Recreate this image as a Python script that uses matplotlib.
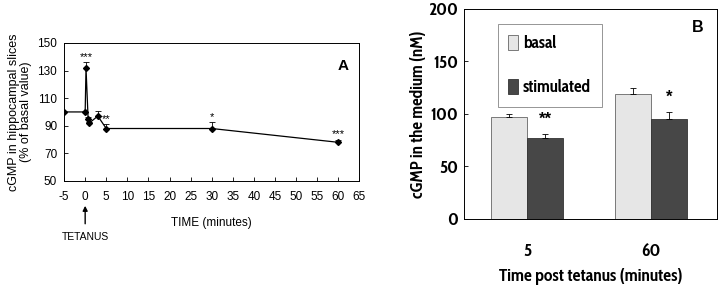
import matplotlib
matplotlib.use("Agg")
import matplotlib.pyplot as plt
from matplotlib import font_manager as fm
import numpy as np
import os

# Panel A data
time_min = [-5, 0, 0.2, 0.7, 1, 3, 5, 30, 60]
cgmp_pct = [100, 100, 132, 95, 92, 97, 88, 88, 78]
cgmp_err = [0, 0, 4, 1.5, 1, 4, 3, 5, 2]
sig_times = [0.2, 5, 30, 60]
sig_vals = [136, 91, 93, 80]
sig_marks = ["***", "**", "*", "***"]
xticks_a = list(range(-5, 70, 5))
yticks_a = [50, 70, 90, 110, 130, 150]

# Panel B data
groups = ["5", "60"]
basal = [97, 119]
basal_err = [3, 6]
stimulated = [77, 95]
stim_err = [4, 7]
sig_b = ["**", "*"]
yticks_b = [0, 50, 100, 150, 200]

plt.rcParams['font.family'] = ['Liberation Sans', 'DejaVu Sans']
plt.rcParams['axes.unicode_minus'] = False

# look for a condensed bold font for panel B
cond_file = None
for f in fm.findSystemFonts():
    b = os.path.basename(f).lower()
    if ('narrow' in b or 'condensed' in b) and 'bold' in b and 'oblique' not in b and 'italic' not in b:
        cond_file = f
        if 'liberation' in b:
            break
if cond_file:
    fpB = fm.FontProperties(fname=cond_file)
else:
    fpB = fm.FontProperties(family='Liberation Sans', weight='bold')


def fpb(size):
    p = fpB.copy()
    p.set_size(size)
    return p


fig = plt.figure(figsize=(7.2, 2.9), dpi=100)

# ---------- Panel A ----------
axA = fig.add_axes([0.089, 0.376, 0.41, 0.476])
axA.errorbar(time_min, cgmp_pct, yerr=[np.zeros(len(cgmp_err)), cgmp_err],
             fmt='-D', color='black', ms=3, lw=0.9, elinewidth=0.6, capsize=2, capthick=0.6)
for t, v, m in zip(sig_times, sig_vals, sig_marks):
    axA.text(t, v, m, ha='center', va='bottom', fontsize=8)
axA.set_xlim(-5, 65)
axA.set_ylim(50, 150)
axA.set_xticks(xticks_a)
axA.set_yticks(yticks_a)
axA.tick_params(direction='in', labelsize=8.5, length=3, width=0.6)
axA.tick_params(axis='x', pad=7)
axA.tick_params(axis='y', pad=5)
axA.set_xlabel("TIME (minutes)", fontsize=8.5, labelpad=10)
axA.set_ylabel("cGMP in hippocampal slices\n(% of basal value)", fontsize=9, linespacing=1.0, labelpad=4)
axA.text(0.945, 0.83, "A", transform=axA.transAxes, fontsize=11, fontweight='bold',
         ha='center', va='center')
axA.annotate("", xy=(0, -0.18), xycoords=('data', 'axes fraction'),
             xytext=(0, -0.31), textcoords=('data', 'axes fraction'),
             arrowprops=dict(arrowstyle='-|>', color='black', lw=1.0, mutation_scale=7,
                             shrinkA=0, shrinkB=0),
             annotation_clip=False)
axA.text(0, -0.37, "TETANUS", transform=axA.get_xaxis_transform(), ha='center', va='top', fontsize=7.5)
for s in axA.spines.values():
    s.set_linewidth(0.7)

# ---------- Panel B ----------
axB = fig.add_axes([0.644, 0.245, 0.352, 0.724])
x = np.arange(len(groups))
w = 0.29
axB.bar(x - w / 2, basal, w, yerr=[np.zeros(2), basal_err], color='#e6e6e6', edgecolor='#666666',
        lw=0.6, capsize=2, error_kw=dict(elinewidth=0.6, capthick=0.6), label='basal')
axB.bar(x + w / 2, stimulated, w, yerr=[np.zeros(2), stim_err], color='#474747', edgecolor='#333333',
        lw=0.6, capsize=2, error_kw=dict(elinewidth=0.6, capthick=0.6), label='stimulated')
for i, m in enumerate(sig_b):
    axB.text(x[i] + w / 2, stimulated[i] + stim_err[i] + 7, m, ha='center', va='bottom',
             fontsize=12, fontweight='bold')
axB.set_xlim(-0.51, 1.53)
axB.set_ylim(0, 200)
axB.set_yticks(yticks_b)
axB.set_xticks(x)
axB.set_xticklabels(groups)
axB.tick_params(axis='y', direction='in', length=3, width=0.6, pad=4)
axB.tick_params(axis='x', length=0, pad=17)
for lab in axB.get_xticklabels() + axB.get_yticklabels():
    lab.set_fontproperties(fpb(13))
xl = axB.set_xlabel("Time post tetanus (minutes)", fontproperties=fpb(12), labelpad=6)
yl = axB.set_ylabel("cGMP in the medium (nM)", fontproperties=fpb(12), labelpad=1)
axB.text(0.925, 0.914, "B", transform=axB.transAxes, fontsize=11.5, fontweight='bold',
         ha='center', va='center')
leg = axB.legend(loc='upper left', bbox_to_anchor=(0.134, 0.929), prop=fpb(13),
                 frameon=True, fancybox=False, edgecolor='#666666', handlelength=0.55,
                 handleheight=0.9, handletextpad=0.25, labelspacing=1.45, borderpad=0.6,
                 borderaxespad=0)
leg.get_frame().set_linewidth(0.6)
for s in axB.spines.values():
    s.set_linewidth(0.7)

# fit panel B label and legend text widths to the reference
fig.canvas.draw()
r = fig.canvas.get_renderer()
def fit(t, target, horiz=True):
    bb = t.get_window_extent(r)
    cur = bb.width if horiz else bb.height
    t.set_fontsize(t.get_fontsize() * target / cur)
fit(xl, 184)
fit(yl, 168, horiz=False)
for lab in axB.get_yticklabels():
    if lab.get_text() == "150":
        s150 = lab
bb = s150.get_window_extent(r)
tsz = s150.get_fontsize() * 25 / bb.width
for lab in axB.get_xticklabels() + axB.get_yticklabels():
    lab.set_fontsize(tsz)
lt = leg.get_texts()[1]
lsz = lt.get_fontsize() * 68 / lt.get_window_extent(r).width
for t in leg.get_texts():
    t.set_fontsize(lsz)

fig.savefig("out.png", dpi=100)
